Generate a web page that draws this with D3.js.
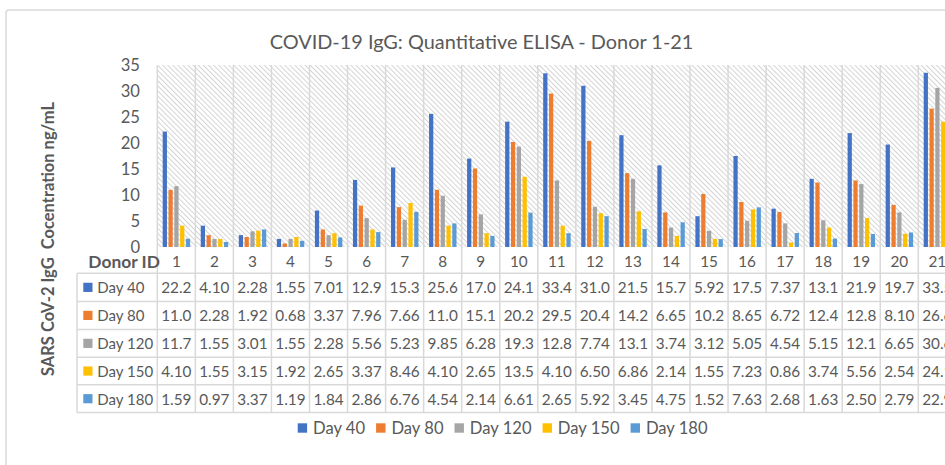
<!DOCTYPE html>
<html>
<head>
<meta charset="utf-8">
<script src="https://cdn.jsdelivr.net/npm/d3@7"></script>
<style>
  body { margin: 0; background: #fff; overflow: hidden; }
  svg text { font-family: Lato, "Open Sans", sans-serif; fill: #595959; }
</style>
</head>
<body>
<script>
"use strict";

// values as printed in the chart's data table
const donors = [1, 2, 3, 4, 5, 6, 7, 8, 9, 10, 11, 12, 13, 14, 15, 16, 17, 18, 19, 20, 21];
const series_names = ["Day 40", "Day 80", "Day 120", "Day 150", "Day 180"];
const day_40  = [22.2, 4.10, 2.28, 1.55, 7.01, 12.9, 15.3, 25.6, 17.0, 24.1, 33.4, 31.0, 21.5, 15.7, 5.92, 17.5, 7.37, 13.1, 21.9, 19.7, 33.5];
const day_80  = [11.0, 2.28, 1.92, 0.68, 3.37, 7.96, 7.66, 11.0, 15.1, 20.2, 29.5, 20.4, 14.2, 6.65, 10.2, 8.65, 6.72, 12.4, 12.8, 8.10, 26.6];
const day_120 = [11.7, 1.55, 3.01, 1.55, 2.28, 5.56, 5.23, 9.85, 6.28, 19.3, 12.8, 7.74, 13.1, 3.74, 3.12, 5.05, 4.54, 5.15, 12.1, 6.65, 30.6];
const day_150 = [4.10, 1.55, 3.15, 1.92, 2.65, 3.37, 8.46, 4.10, 2.65, 13.5, 4.10, 6.50, 6.86, 2.14, 1.55, 7.23, 0.86, 3.74, 5.56, 2.54, 24.1];
const day_180 = [1.59, 0.97, 3.37, 1.19, 1.84, 2.86, 6.76, 4.54, 2.14, 6.61, 2.65, 5.92, 3.45, 4.75, 1.52, 7.63, 2.68, 1.63, 2.50, 2.79, 22.9];
const y_ticks = [0, 5, 10, 15, 20, 25, 30, 35];

const series_values = [day_40, day_80, day_120, day_150, day_180];

const wSvg = 945, hSvg = 465;
const plotLeft = 157.3, plotTop = 65, plotBottom = 247;
const colW = 38.05;
const tableLeft = 77;
const rowTops = [273.3, 301.4, 329.4, 357.3, 384.8, 412.6];
const gridColor = "#d9d9d9";

let color = d3.scaleOrdinal()
    .domain(series_names)
    .range(["#4472c4", "#ed7d31", "#a5a5a5", "#ffc000", "#5b9bd5"]);

let xScale = d3.scaleBand()
    .domain(donors)
    .range([plotLeft, plotLeft + colW * donors.length])
    .padding(0);

let xInner = d3.scaleBand()
    .domain(series_names)
    .range([5.4, colW - 5.2])
    .paddingInner(0.27);

let yScale = d3.scaleLinear()
    .domain([0, 35])
    .range([plotBottom, plotTop]);

let svg = d3.select("body").append("svg")
    .attr("width", wSvg).attr("height", hSvg);

// hatched plot background
let defs = svg.append("defs");
let pattern = defs.append("pattern")
    .attr("id", "hatch")
    .attr("patternUnits", "userSpaceOnUse")
    .attr("width", 3.6).attr("height", 3.6)
    .attr("patternTransform", "rotate(-45)");
pattern.append("rect").attr("width", 3.6).attr("height", 3.6).attr("fill", "#fff");
pattern.append("line")
    .attr("x1", 0.5).attr("y1", 0).attr("x2", 0.5).attr("y2", 3.6)
    .attr("stroke", "#d0d0d0").attr("stroke-width", 0.9);

// chart frame
svg.append("rect")
    .attr("x", 6).attr("y", 10)
    .attr("width", 1100).attr("height", 600)
    .attr("rx", 3)
    .attr("fill", "none")
    .attr("stroke", gridColor).attr("stroke-width", 1.5);

svg.append("rect")
    .attr("x", plotLeft).attr("y", plotTop)
    .attr("width", xScale.range()[1] - plotLeft)
    .attr("height", plotBottom - plotTop)
    .attr("fill", "url(#hatch)");

// title
svg.append("text")
    .attr("x", 481.5).attr("y", 41)
    .attr("text-anchor", "middle")
    .attr("dominant-baseline", "central")
    .style("font-size", "19.9px")
    .text("COVID-19 IgG: Quantitative ELISA - Donor 1-21");

// y axis title
svg.append("text")
    .attr("transform", "translate(48, 239) rotate(-90)")
    .attr("text-anchor", "middle")
    .attr("dominant-baseline", "central")
    .style("font-size", "16.5px")
    .style("font-weight", "bold")
    .style("white-space", "pre")
    .text("SARS CoV-2 IgG  Cocentration ng/mL");

// y tick labels
svg.append("g").selectAll("text")
    .data(y_ticks)
    .enter()
    .append("text")
    .attr("x", 140)
    .attr("y", d => yScale(d))
    .attr("text-anchor", "end")
    .attr("dominant-baseline", "central")
    .style("font-size", "16.6px")
    .text(d => d);

// vertical grid lines through plot and table
let boundaries = donors.map(d => xScale(d)).concat([xScale.range()[1]]);
svg.append("g").selectAll("line")
    .data(boundaries)
    .enter()
    .append("line")
    .attr("x1", d => d).attr("x2", d => d)
    .attr("y1", plotTop).attr("y2", rowTops[rowTops.length - 1])
    .attr("stroke", gridColor).attr("stroke-width", 1.5);

// bars
let groups = svg.append("g").selectAll("g")
    .data(donors)
    .enter()
    .append("g")
    .attr("transform", d => `translate(${xScale(d)}, 0)`);

groups.selectAll("rect")
    .data((d, i) => series_names.map((s, j) => ({ series: s, value: series_values[j][i] })))
    .enter()
    .append("rect")
    .attr("x", d => xInner(d.series))
    .attr("width", xInner.bandwidth())
    .attr("y", d => yScale(d.value))
    .attr("height", d => plotBottom - yScale(d.value))
    .attr("fill", d => color(d.series));

// data table
let table = svg.append("g");

table.selectAll("line.row")
    .data(rowTops)
    .enter()
    .append("line")
    .attr("class", "row")
    .attr("x1", tableLeft).attr("x2", xScale.range()[1])
    .attr("y1", d => d).attr("y2", d => d)
    .attr("stroke", gridColor).attr("stroke-width", 1.5);

table.append("line")
    .attr("x1", tableLeft).attr("x2", tableLeft)
    .attr("y1", rowTops[0]).attr("y2", rowTops[rowTops.length - 1])
    .attr("stroke", gridColor).attr("stroke-width", 1.5);

let headerY = (plotBottom + rowTops[0]) / 2 + 1;

table.append("text")
    .attr("x", 160).attr("y", headerY)
    .attr("text-anchor", "end")
    .attr("dominant-baseline", "central")
    .style("font-size", "17.4px")
    .style("font-weight", "bold")
    .text("Donor ID");

table.selectAll("text.donor")
    .data(donors)
    .enter()
    .append("text")
    .attr("class", "donor")
    .attr("x", d => xScale(d) + colW / 2)
    .attr("y", headerY)
    .attr("text-anchor", "middle")
    .attr("dominant-baseline", "central")
    .style("font-size", "15.3px")
    .text(d => d);

function format_value (v) { return v < 10 ? v.toFixed(2) : v.toFixed(1); }

series_names.forEach((name, j) => {
    let yMid = (rowTops[j] + rowTops[j + 1]) / 2;

    table.append("rect")
        .attr("x", 83.3).attr("y", yMid - 4.6)
        .attr("width", 9.2).attr("height", 9.2)
        .attr("fill", color(name));

    table.append("text")
        .attr("x", 97.3).attr("y", yMid)
        .attr("dominant-baseline", "central")
        .style("font-size", "15px")
        .text(name);

    table.append("g").selectAll("text")
        .data(series_values[j])
        .enter()
        .append("text")
        .attr("x", (d, i) => xScale(donors[i]) + colW / 2)
        .attr("y", yMid)
        .attr("text-anchor", "middle")
        .attr("dominant-baseline", "central")
        .style("font-size", "15.3px")
        .text(format_value);
});

// legend
let legend = svg.append("g");
let legendX = 297.7, legendY = 428;
series_names.forEach(name => {
    legend.append("rect")
        .attr("x", legendX).attr("y", legendY - 4.7)
        .attr("width", 9.4).attr("height", 9.4)
        .attr("fill", color(name));
    let label = legend.append("text")
        .attr("x", legendX + 15.3).attr("y", legendY)
        .attr("dominant-baseline", "central")
        .style("font-size", "16.6px")
        .text(name);
    legendX += 15.3 + label.node().getComputedTextLength() + 11;
});
</script>
</body>
</html>
